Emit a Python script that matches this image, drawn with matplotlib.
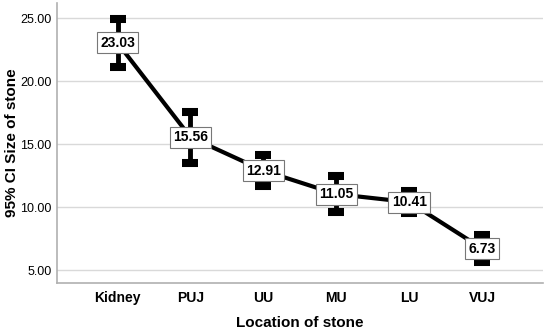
import matplotlib.pyplot as plt
import numpy as np

plt.rcParams['font.family'] = ['Liberation Sans', 'DejaVu Sans']

locations = ["Kidney", "PUJ", "UU", "MU", "LU", "VUJ"]
means = [23.03, 15.56, 12.91, 11.05, 10.41, 6.73]
ci_low = [21.10, 13.50, 11.68, 9.66, 9.52, 5.70]
ci_high = [24.93, 17.56, 14.14, 12.45, 11.33, 7.84]
yticks = [5, 10, 15, 20, 25]

x = np.arange(len(locations))
m = np.array(means)
err = [m - np.array(ci_low), np.array(ci_high) - m]

fig = plt.figure(figsize=(5.5, 3.3), dpi=100)
ax = fig.add_axes([0.1036, 0.1424, 0.8834, 0.8486])

ax.errorbar(x, m, yerr=err, fmt='none', ecolor='black', elinewidth=3.5,
            capsize=6.1, capthick=5.8, zorder=3)
ax.plot(x, m, color='black', lw=3, zorder=4)
for xi, v in zip(x, means):
    ax.text(xi, v, "%.2f" % v, ha='center', va='center', fontsize=10,
            fontweight='bold', zorder=5,
            bbox=dict(boxstyle='square,pad=0.25', fc='white', ec='#777777', lw=0.8))

ax.set_xlim(-0.83, 5.83)
ax.set_ylim(4.0, 26.2)
ax.set_xticks(x)
ax.set_xticklabels(locations, fontsize=10, fontweight='bold')
ax.set_yticks(yticks)
ax.set_yticklabels(["%.2f" % t for t in yticks], fontsize=9)
ax.tick_params(length=0, pad=4)
ax.tick_params(axis='x', pad=6)
ax.yaxis.grid(True, color='#d9d9d9', lw=1)
ax.set_axisbelow(True)
for s in ['top', 'right']:
    ax.spines[s].set_visible(False)
for s in ['left', 'bottom']:
    ax.spines[s].set_color('#b0b0b0')
    ax.spines[s].set_linewidth(1.2)

ax.set_xlabel("Location of stone", fontsize=11, fontweight='bold')
ax.set_ylabel("95% CI Size of stone", fontsize=11, fontweight='bold')
ax.xaxis.set_label_coords(0.5, -0.118)
ax.yaxis.set_label_coords(-0.078, 0.5)

fig.savefig("out.png", dpi=100)
